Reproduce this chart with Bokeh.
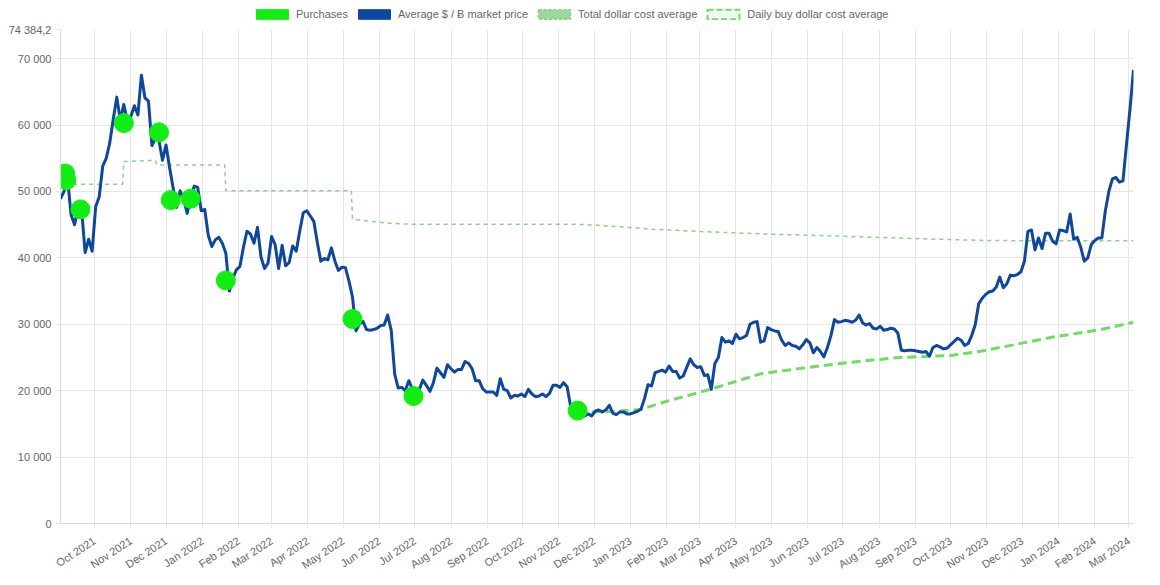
import pandas as pd
from bokeh.plotting import figure
from bokeh.layouts import column
from bokeh.models import (Range1d, FixedTicker, MonthsTicker, DatetimeTickFormatter,
                          Legend, LegendItem)
from bokeh.embed import file_html
from bokeh.resources import INLINE

# ---------------- data ----------------
price_end = "2024-03-05"   # last sample; samples are every 3 days
price_values = [
    # Sep 2021
    48900, 50000, 52000, 46500, 45000, 47700, 47300, 40800, 42800, 41000,
    # Oct 2021
    47700, 49200, 53800, 55000, 57300, 60900, 64200, 60700, 63100, 60600, 61300,
    # Nov 2021
    62900, 61500, 67500, 64100, 63600, 56900, 58100, 57600, 54700, 57000,
    # Dec 2021
    53600, 50600, 47600, 50100, 48900, 46700, 48900, 50800, 50600, 47100,
    # Jan 2022
    47300, 43400, 41700, 42700, 43100, 42200, 40700, 35000, 36900, 38200,
    # Feb 2022
    38700, 41600, 44000, 43600, 42200, 44600, 40100, 38400, 39200, 43200,
    # Mar 2022
    42000, 38400, 41900, 38800, 39300, 41800, 41000, 44000, 46800, 47100,
    # Apr 2022
    46300, 45500, 42300, 39500, 39900, 39700, 41500, 39500, 38100, 38600,
    # May 2022
    38500, 36500, 34100, 29000, 30100, 30400, 29200, 29100, 29200, 29400,
    # Jun 2022
    29800, 29900, 31400, 29100, 22500, 20400, 20500, 20000, 21500, 20300,
    # Jul 2022
    19300, 20200, 21600, 20800, 19900, 21200, 23400, 22700, 22000, 23900, 23300,
    # Aug 2022
    22800, 23200, 23200, 24400, 24100, 23300, 21500, 21500, 20300, 19800,
    # Sep 2022
    19800, 19800, 19300, 21800, 20200, 20000, 18900, 19300, 19200, 19500,
    # Oct 2022
    19100, 20200, 19500, 19100, 19200, 19500, 19100, 19600, 20800, 20800,
    # Nov 2022
    20500, 21200, 20600, 17700, 16300, 16700, 16700, 16200, 16500, 16200,
    # Dec 2022
    16900, 17100, 16800, 17100, 17800, 16600, 16400, 16800, 16800, 16500, 16500,
    # Jan 2023
    16700, 16900, 17200, 18800, 20900, 20700, 22700, 22900, 23100, 22800,
    # Feb 2023
    23700, 22900, 22900, 21900, 22200, 23500, 24800, 23900, 23500,
    # Mar 2023
    23600, 22300, 22400, 20200, 24100, 25000, 28000, 27300, 27500, 27100, 28500,
    # Apr 2023
    27800, 28000, 28300, 30000, 30300, 30400, 27300, 27500, 29500, 29200,
    # May 2023
    29000, 28900, 27600, 26800, 27200, 26800, 26700, 26300, 26900, 27700,
    # Jun 2023
    27200, 25700, 26500, 25900, 25100, 26500, 28300, 30700, 30300, 30400,
    # Jul 2023
    30600, 30500, 30300, 30600, 31400, 30200, 29900, 30100, 29400, 29300,
    # Aug 2023
    29700, 29100, 29200, 29400, 29300, 28700, 26100, 26000, 26100, 26100, 26000,
    # Sep 2023
    25900, 25800, 25900, 25200, 26500, 26800, 26600, 26300, 26400, 26900,
    # Oct 2023
    27400, 27900, 27600, 26800, 27100, 28300, 29900, 33100, 33900, 34500,
    # Nov 2023
    34900, 35000, 35600, 37100, 35500, 36100, 37400, 37300, 37500, 37900,
    # Dec 2023
    39500, 44000, 44200, 41200, 43000, 41400, 43700, 43700, 42500, 42100,
    # Jan 2024
    44200, 44100, 43900, 46600, 42800, 43100, 41600, 39500, 40000, 42000, 42600,
    # Feb 2024
    43000, 43000, 47100, 50000, 51900, 52100, 51400, 51600, 57000,
    # Mar 2024
    62400, 68300,
]

purchase_dates = ["2021-09-06", "2021-09-07", "2021-09-19", "2021-10-26",
                  "2021-11-25", "2021-12-05", "2021-12-22", "2022-01-21",
                  "2022-05-09", "2022-06-30", "2022-11-17"]
purchase_prices = [52700, 51700, 47300, 60300, 58900, 48700, 48900, 36600,
                   30800, 19200, 17000]

total_dca_dates = ["2021-09-06", "2021-10-25", "2021-10-26", "2021-11-22",
                   "2021-11-23", "2022-01-20", "2022-01-21", "2022-05-08",
                   "2022-05-09", "2022-05-25", "2022-06-10", "2022-06-27",
                   "2022-11-17", "2022-12-01", "2022-12-23", "2023-01-20",
                   "2023-03-02", "2023-04-30", "2023-06-29", "2023-08-30",
                   "2023-11-01", "2023-12-28", "2024-03-05"]
total_dca_values = [51100, 51100, 54500, 54700, 54000, 54000, 50100, 50100,
                    45800, 45500, 45200, 45070, 45050, 44950, 44670, 44300,
                    43960, 43570, 43270, 42910, 42610, 42560, 42560]

daily_dca_dates = ["2022-11-17", "2022-12-01", "2022-12-20", "2023-01-09",
                   "2023-02-01", "2023-03-10", "2023-04-22", "2023-06-03",
                   "2023-07-16", "2023-08-19", "2023-10-01", "2023-10-29",
                   "2023-12-25", "2024-02-06", "2024-03-05"]
daily_dca_values = [16700, 16800, 16900, 17150, 18400, 20200, 22550, 23540,
                    24440, 25000, 25300, 26000, 28000, 29200, 30300]

ytick_values = [0, 10000, 20000, 30000, 40000, 50000, 60000, 70000, 74384.2]
ytick_labels = ["0", "10 000", "20 000", "30 000", "40 000", "50 000",
                "60 000", "70 000", "74 384,2"]

series_names = ["Purchases", "Average $ / Ƀ market price",
                "Total dollar cost average", "Daily buy dollar cost average"]

# ---------------- derived ----------------
price_dates = pd.date_range(end=price_end, periods=len(price_values), freq="3D")
p_dates = pd.to_datetime(purchase_dates)
t_dates = pd.to_datetime(total_dca_dates)
d_dates = pd.to_datetime(daily_dca_dates)

FONT = "Liberation Sans"
FS = "11px"
TXT = "#666666"
GRID = "#e6e6e6"

GREEN = "#11ee11"
BLUE = "#0d47a1"
TOTAL_C = "#8dcf8d"
DAILY_C = "#6fdc62"

W = 1160
LEG_H = 22
FRAME_H = 494
TOP = 7
BOTTOM = 60

# ---------------- main chart ----------------
p = figure(width=W, height=TOP + FRAME_H + BOTTOM, x_axis_type="datetime",
           output_backend="svg", toolbar_location=None,
           x_range=Range1d(price_dates[0], price_dates[-1]),
           y_range=Range1d(0, ytick_values[-1]))
p.min_border_left = 60
p.min_border_right = 27
p.min_border_top = TOP
p.min_border_bottom = BOTTOM
p.outline_line_color = None
p.background_fill_color = "white"
p.border_fill_color = "white"

p.xaxis.ticker = MonthsTicker(months=list(range(12)))
p.xaxis.formatter = DatetimeTickFormatter(
    months="%b %Y", days="%b %Y", years="%b %Y", hours="%b %Y")
p.xaxis.major_label_orientation = 0.58
p.yaxis.ticker = FixedTicker(ticks=ytick_values)
p.yaxis.major_label_overrides = {v: l for v, l in zip(ytick_values, ytick_labels)}

for ax in (p.xaxis, p.yaxis):
    ax.major_label_text_font = FONT
    ax.major_label_text_font_size = FS
    ax.major_label_text_color = TXT
    ax.axis_line_color = "#d9d9d9"
    ax.major_tick_line_color = GRID
    ax.major_tick_out = 5
    ax.major_tick_in = 0
    ax.minor_tick_line_color = None
    ax.major_label_standoff = 4
p.xaxis.major_label_standoff = 11

p.xgrid.grid_line_color = GRID
p.ygrid.grid_line_color = GRID

# series (cost averages beneath, market price, purchases on top)
p.line(t_dates, total_dca_values, line_color=TOTAL_C,
       line_width=1.5, line_dash="4 4")
p.line(d_dates, daily_dca_values, line_color=DAILY_C, line_width=3,
       line_dash="9 5")
p.line(price_dates, price_values, line_color=BLUE, line_width=3,
       line_join="round")
p.scatter(p_dates, purchase_prices, size=19, fill_color=GREEN,
          line_color=GREEN)

# ---------------- legend strip on top ----------------
lg = figure(width=W, height=LEG_H, output_backend="svg", toolbar_location=None,
            x_range=Range1d(0, 1), y_range=Range1d(0, 1),
            x_axis_location=None, y_axis_location=None, min_border=0)
lg.outline_line_color = None
lg.grid.visible = False

nan = [float("nan")]
r_pur = lg.quad(left=nan, right=nan, top=nan, bottom=nan, fill_color=GREEN,
                line_color=GREEN)
r_avg = lg.quad(left=nan, right=nan, top=nan, bottom=nan, fill_color=BLUE,
                line_color=BLUE)
r_tot = lg.quad(left=nan, right=nan, top=nan, bottom=nan, fill_color="#9cd89c",
                line_color="#86cc86", line_dash="3 2", line_width=1.5)
r_day = lg.quad(left=nan, right=nan, top=nan, bottom=nan, fill_color="#f0fbf0",
                line_color=DAILY_C, line_dash="6 3", line_width=2)

legend = Legend(items=[LegendItem(label=n, renderers=[r]) for n, r in
                       zip(series_names, [r_pur, r_avg, r_tot, r_day])],
                orientation="horizontal", location=(192, 2),
                glyph_width=40, glyph_height=12, label_height=12,
                label_standoff=4, spacing=6, padding=0, margin=0,
                label_text_font=FONT, label_text_font_size=FS,
                label_text_color=TXT, border_line_color=None,
                background_fill_alpha=0)
lg.add_layout(legend, "center")

layout = column(lg, p, spacing=0)
open("out.html", "w").write(file_html(layout, INLINE))
